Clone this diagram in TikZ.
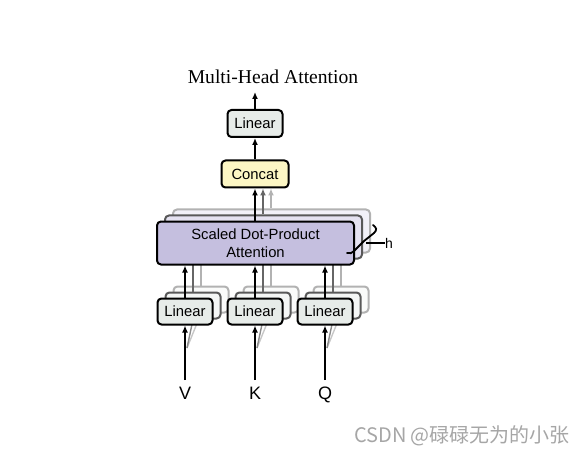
\documentclass[tikz,border=0pt]{standalone}
\usepackage{fontspec}
\setmainfont{Liberation Serif}
\setsansfont{Liberation Sans}
\newfontfamily\cjkfont{Noto Sans CJK SC}
\usetikzlibrary{arrows.meta}
\definecolor{linfill}{RGB}{231,236,233}
\definecolor{catfill}{RGB}{252,246,196}
\definecolor{sdpafill}{RGB}{197,191,223}
\tikzset{
  box/.style={draw=black, line width=2pt, rounded corners=4pt, inner sep=0pt, align=center,
    font=\sffamily\fontsize{14.8}{18}\selectfont},
  linbox/.style={box, fill=linfill, minimum width=55pt, minimum height=26pt},
  sdpabox/.style={box, fill=sdpafill, minimum width=197pt, minimum height=43pt},
  catbox/.style={box, fill=catfill, minimum width=67pt, minimum height=27pt},
  ghostA/.style={draw=black!65, fill=#1!45},
  ghostB/.style={draw=black!30, fill=#1!22},
  arr/.style={line width=1.8pt, -{Latex[length=7pt,width=6pt]}},
  arrA/.style={arr, draw=black!60},
  arrB/.style={arr, draw=black!30},
  ln/.style={line width=1.8pt},
  lbl/.style={font=\sffamily\fontsize{18}{20}\selectfont, inner sep=0pt, anchor=base},
}
\begin{document}
\begin{tikzpicture}[x=1pt, y=-1pt]
\useasboundingbox (0,0) rectangle (580,454);

% title
\node[font=\fontsize{19.6}{22}\selectfont, inner sep=0pt] (title) at (273,77) {Multi-Head Attention};

% labels V K Q
\node[lbl] (v) at (185,399.5) {V};
\node[lbl] (k) at (255,399.5) {K};
\node[lbl] (q) at (325,399.5) {Q};

% ghost linear boxes (back)
\foreach \n/\x in {v/185, k/255, q/325}{
  \node[linbox, ghostB=linfill] (lin\n3) at (\x+16,299.5) {};
  \node[linbox, ghostA=linfill] (lin\n2) at (\x+8,305.5) {};
}
% ghost SDPA boxes
\node[sdpabox, ghostB=sdpafill] (sdpa3) at (271.5,231) {};
\node[sdpabox, ghostA=sdpafill] (sdpa2) at (263.5,237) {};

% gray connectors from ghost linears to ghost sdpa
\foreach \n in {v,k,q}{
  \draw[ln, black!30] (lin\n3.north) -- (lin\n3.north |- sdpa3.south);
  \draw[ln, black!60] (lin\n2.north) -- (lin\n2.north |- sdpa2.south);
}

% input branch lines to ghost linears
\foreach \n/\x in {v/185, k/255, q/325}{
  \coordinate (br\n) at (\x+2,348);
  \draw[line width=1.4pt, black!22] (br\n) -- (lin\n3.south);
  \draw[line width=1.4pt, black!45] (br\n) -- (lin\n2.south);
}

% front linear boxes
\node[linbox] (linv) at (185,311.5) {Linear};
\node[linbox] (link) at (255,311.5) {Linear};
\node[linbox] (linq) at (325,311.5) {Linear};

% front SDPA
\node[sdpabox] (sdpa) at (255.5,243) {Scaled Dot-Product\\Attention};

% arrows from inputs to linears
\coordinate (vtop) at (185,380);
\coordinate (ktop) at (255,380);
\coordinate (qtop) at (325,380);
\draw[arr] (vtop) -- (linv.south);
\draw[arr] (ktop) -- (link.south);
\draw[arr] (qtop) -- (linq.south);

% arrows from linears to SDPA
\draw[arr] (linv.north) -- (linv.north |- sdpa.south);
\draw[arr] (link.north) -- (link.north |- sdpa.south);
\draw[arr] (linq.north) -- (linq.north |- sdpa.south);

% concat and top linear
\node[catbox] (concat) at (255,174) {Concat};
\node[linbox, minimum height=27pt] (lintop) at (255,123.5) {Linear};

% arrows SDPA -> concat
\draw[arrB] (sdpa3.north -| 271,0) -- (271,0 |- concat.south);
\draw[arrA] (sdpa2.north -| 263,0) -- (263,0 |- concat.south);
\draw[arr] (sdpa.north -| concat.south) -- (concat.south);

% concat -> linear -> output
\draw[arr] (concat.north) -- (lintop.south);
\coordinate (out) at (255,92);
\draw[arr] (lintop.north) -- (out);

% brace and h
\node[font=\sffamily\fontsize{14}{16}\selectfont, inner sep=0pt] (h) at (389,243) {h};
\coordinate (bm) at (364,241);
\draw[line width=1.8pt, line cap=round] (373,225) .. controls (377,228) and (377,230) .. (374,233)
   -- (bm) -- (354,251) .. controls (352,253) and (350,254) .. (347,253);
\draw[line width=1.2pt] (bm) ++(2,2) -- (h.west);

% watermark
\node[font=\cjkfont\fontsize{20}{22}\selectfont, text=black!35, inner sep=0pt] (wm) at (462,436) {CSDN @碌碌无为的小张};
\end{tikzpicture}
\end{document}
